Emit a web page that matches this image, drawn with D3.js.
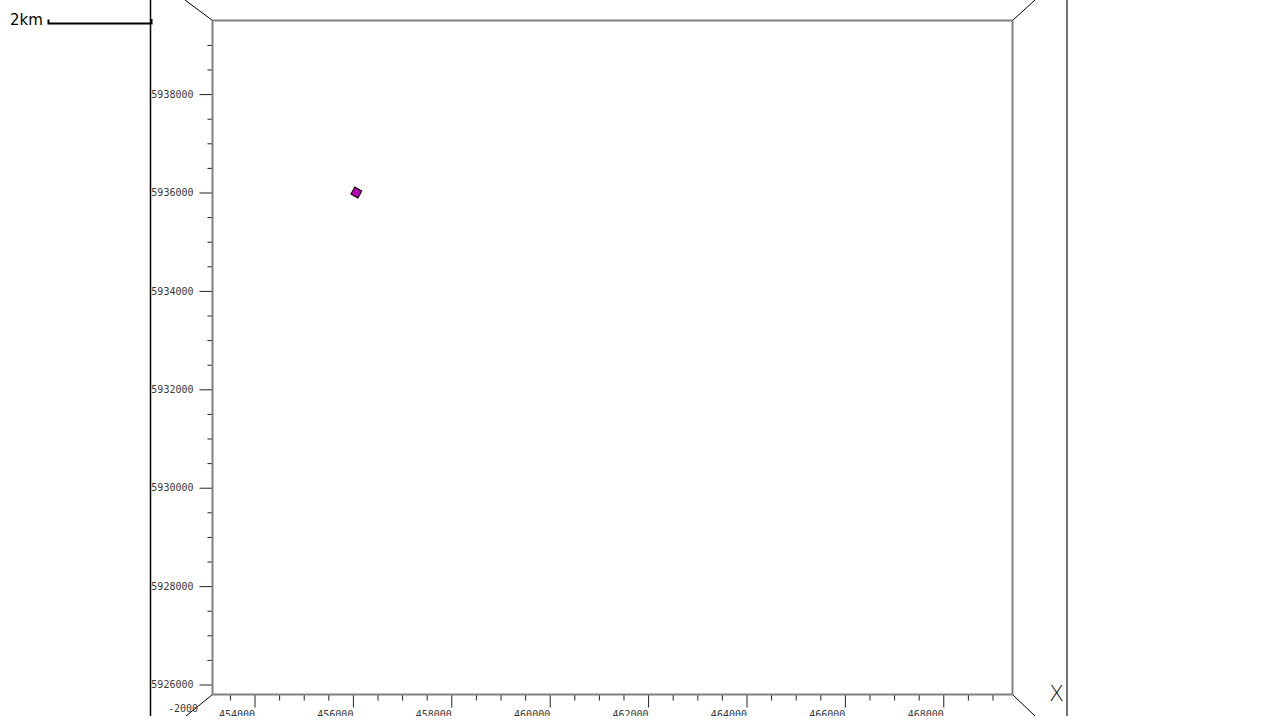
<!DOCTYPE html>
<html>
<head>
<meta charset="utf-8">
<script src="https://cdn.jsdelivr.net/npm/d3@7/dist/d3.min.js"></script>
<style>
html,body{margin:0;padding:0;background:#fff;overflow:hidden;}
svg{display:block;}
</style>
</head>
<body>
<script>
// ---- data ----
const xDomain = [453146, 469407];          // easting extent of the plotted box
const yDomain = [5925797, 5939496];        // northing extent of the plotted box
const xMajorTicks = [454000, 456000, 458000, 460000, 462000, 464000, 466000, 468000];
const yMajorTicks = [5926000, 5928000, 5930000, 5932000, 5934000, 5936000, 5938000];
const minorStep = 500;
const zLabel = "-2000";
const axisName = "X";
const scaleBarLabel = "2km";
const pointsX = [456070];
const pointsY = [5936000];

// ---- layout ----
const W = 1280, H = 716;
const box = {l: 212.5, r: 1012.5, t: 20.5, b: 694.5};

const svg = d3.select("body").append("svg").attr("width", W).attr("height", H);

const x = d3.scaleLinear().domain(xDomain).range([box.l, box.r]);
const y = d3.scaleLinear().domain(yDomain).range([box.b, box.t]);

function minorTicks(dom, majors) {
  const out = [];
  for (let v = Math.ceil(dom[0] / minorStep) * minorStep; v <= dom[1]; v += minorStep) {
    if (!majors.includes(v)) out.push(v);
  }
  return out;
}

// outer perspective frame
const outer = svg.append("g").attr("fill", "none");
outer.append("line").attr("x1", 150.5).attr("x2", 150.5).attr("y1", 0).attr("y2", H)
  .attr("stroke", "#000").attr("stroke-width", 1.5);
outer.append("line").attr("x1", 1067).attr("x2", 1067).attr("y1", 0).attr("y2", H)
  .attr("stroke", "#444").attr("stroke-width", 1.5);
const diag = [
  [box.l, box.t, 185, 0],
  [box.r, box.t, 1035, 0],
  [box.l, box.b, 186, 716],
  [box.r, box.b, 1035, 716]
];
outer.selectAll("line.diag").data(diag).join("line").attr("class", "diag")
  .attr("x1", d => d[0]).attr("y1", d => d[1]).attr("x2", d => d[2]).attr("y2", d => d[3])
  .attr("stroke", "#000").attr("stroke-width", 1);

// axes
const tickFont = "DejaVu Sans Mono";
const yMinor = d3.axisLeft(y).tickValues(minorTicks(yDomain, yMajorTicks)).tickSize(5).tickFormat("");
const yMajor = d3.axisLeft(y).tickValues(yMajorTicks).tickSize(13).tickPadding(6).tickFormat(d3.format("d"));
const xMinor = d3.axisBottom(x).tickValues(minorTicks(xDomain, xMajorTicks)).tickSize(6).tickFormat("");
const xMajor = d3.axisBottom(x).tickValues(xMajorTicks).tickSize(13).tickFormat(d3.format("d"));

function style(g) {
  g.select(".domain").remove();
  g.selectAll(".tick line").attr("stroke", "#222").attr("stroke-width", 1);
  g.selectAll(".tick text").attr("fill", "#3a3a3a").style("font-family", tickFont).style("font-size", "10px");
}
svg.append("g").attr("transform", `translate(${box.l},0)`).call(yMinor).call(style);
svg.append("g").attr("transform", `translate(${box.l},0)`).call(yMajor).call(style);
svg.append("g").attr("transform", `translate(0,${box.b})`).call(xMinor).call(style);
const gx = svg.append("g").attr("transform", `translate(0,${box.b})`).call(xMajor).call(style);
gx.selectAll(".tick text").attr("text-anchor", "end").attr("y", 23.5).attr("dy", null);

// front face
svg.append("rect").attr("x", box.l).attr("y", box.t)
  .attr("width", box.r - box.l).attr("height", box.b - box.t)
  .attr("fill", "none").attr("stroke", "#808080").attr("stroke-width", 2);

// z label
svg.append("text").attr("x", 198).attr("y", 711.5).attr("text-anchor", "end")
  .attr("fill", "#3a3a3a").style("font-family", tickFont).style("font-size", "10px").text(zLabel);

// axis name
svg.append("text").attr("x", 1064).attr("y", 701).attr("text-anchor", "end")
  .attr("fill", "#222").style("font-family", "DejaVu Sans").style("font-size", "22px")
  .style("font-weight", "200").text(axisName);

// points
const pts = pointsX.map((v, i) => [v, pointsY[i]]);
svg.selectAll("rect.pt").data(pts).join("rect").attr("class", "pt")
  .attr("x", -4).attr("y", -4).attr("width", 8).attr("height", 8)
  .attr("transform", d => `translate(${x(d[0])},${y(d[1])}) rotate(30)`)
  .attr("fill", "#b400b4").attr("stroke", "#000").attr("stroke-width", 1);

// scale bar
const sb = svg.append("g");
sb.append("text").attr("x", 10).attr("y", 25).attr("fill", "#000")
  .style("font-family", "DejaVu Sans").style("font-size", "15px").text(scaleBarLabel);
sb.append("path").attr("d", "M48.5,19.5 V23.5 H151.5 V19")
  .attr("fill", "none").attr("stroke", "#000").attr("stroke-width", 2);
</script>
</body>
</html>
